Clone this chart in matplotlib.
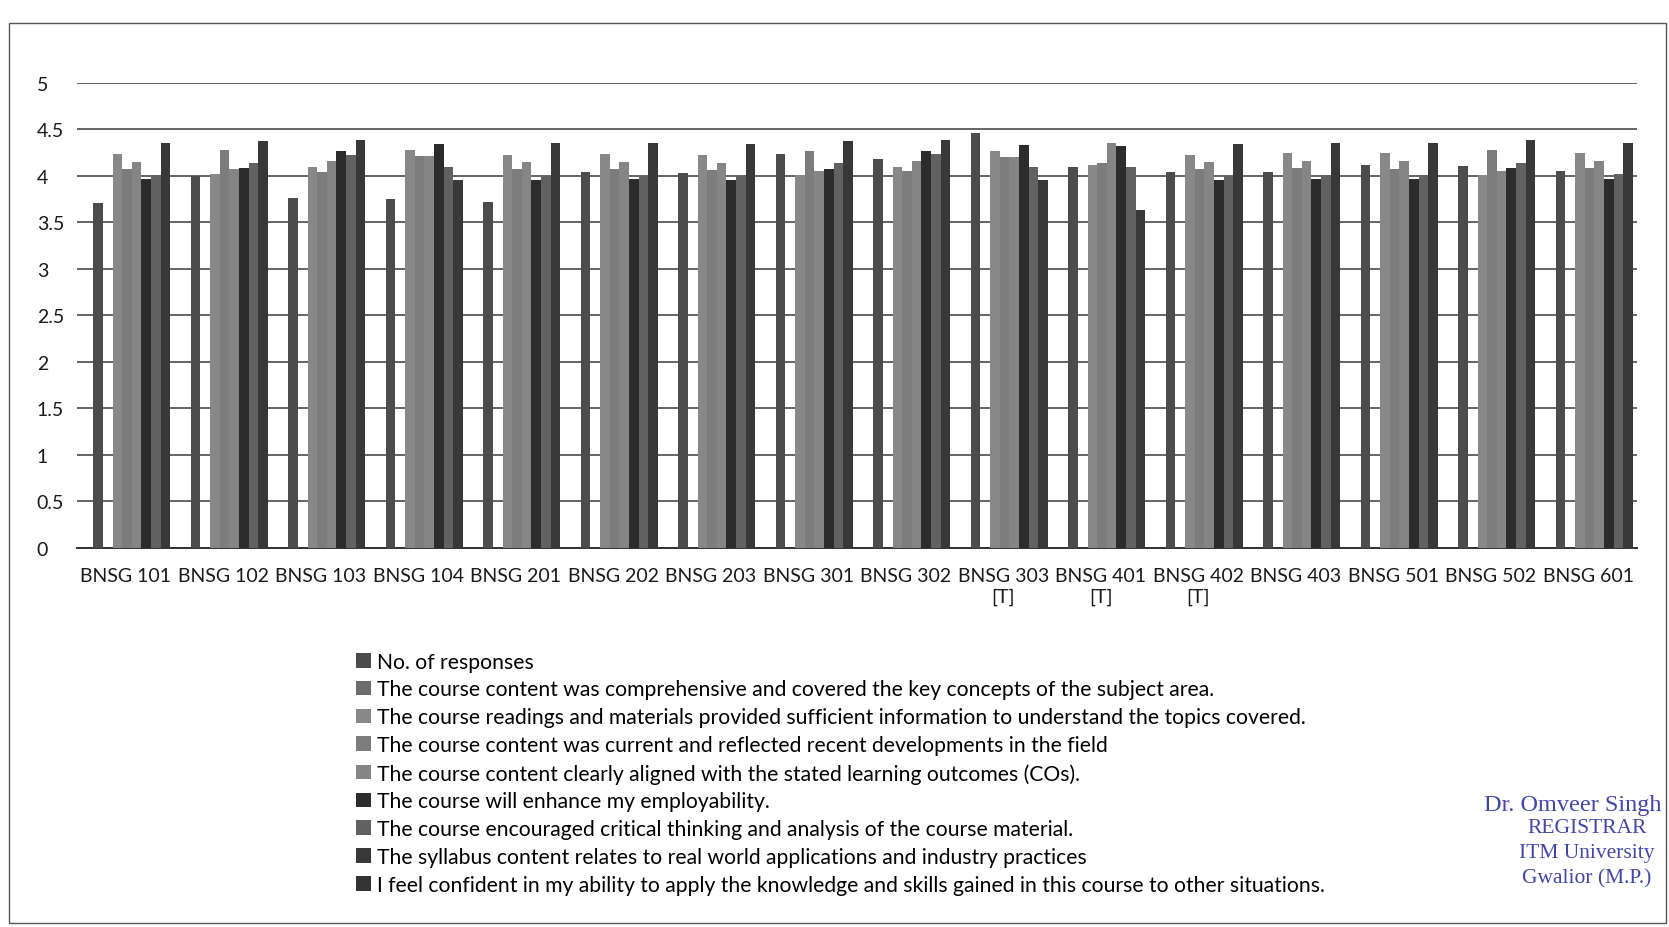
import numpy as np
import matplotlib
matplotlib.use("Agg")
import matplotlib.pyplot as plt
from matplotlib.patches import Patch, Rectangle

plt.rcParams["font.family"] = ["Lato", "DejaVu Sans"]

categories = [
    "BNSG 101", "BNSG 102", "BNSG 103", "BNSG 104", "BNSG 201", "BNSG 202",
    "BNSG 203", "BNSG 301", "BNSG 302", "BNSG 303\n[T]", "BNSG 401\n[T]",
    "BNSG 402\n[T]", "BNSG 403", "BNSG 501", "BNSG 502", "BNSG 601",
]

labels = [
    "No. of responses",
    "The course content was comprehensive and covered the key concepts of the subject area.",
    "The course readings and materials provided sufficient information to understand the topics covered.",
    "The course content was current and reflected recent developments in the field",
    "The course content clearly aligned with the stated learning outcomes (COs).",
    "The course will enhance my employability.",
    "The course encouraged critical thinking and analysis of the course material.",
    "The syllabus content relates to real world applications and industry practices",
    "I feel confident in my ability to apply the knowledge and skills gained in this course to other situations.",
]

# values; two series show no bars at all
responses = [3.70, 4.00, 3.76, 3.75, 3.71, 4.04, 4.03, 4.23, 4.18, 4.46, 4.09, 4.04, 4.04, 4.11, 4.10, 4.05]
comprehensive = None
readings = [4.23, 4.02, 4.09, 4.27, 4.22, 4.23, 4.22, 4.01, 4.09, 4.26, 4.11, 4.22, 4.24, 4.24, 4.01, 4.24]
current = [4.07, 4.27, 4.04, 4.21, 4.07, 4.07, 4.06, 4.26, 4.05, 4.20, 4.14, 4.07, 4.08, 4.07, 4.27, 4.08]
aligned = [4.15, 4.07, 4.16, 4.21, 4.15, 4.15, 4.14, 4.05, 4.16, 4.20, 4.35, 4.15, 4.16, 4.16, 4.05, 4.16]
employability = [3.96, 4.08, 4.26, 4.34, 3.95, 3.96, 3.95, 4.07, 4.26, 4.33, 4.32, 3.95, 3.96, 3.96, 4.08, 3.96]
critical = [4.01, 4.14, 4.22, 4.09, 4.00, 4.00, 4.00, 4.13, 4.23, 4.09, 4.09, 4.00, 4.01, 4.01, 4.14, 4.02]
syllabus = [4.35, 4.37, 4.38, 3.95, 4.35, 4.35, 4.34, 4.37, 4.38, 3.95, 3.63, 4.34, 4.35, 4.35, 4.38, 4.35]
confident = None

series = [responses, comprehensive, readings, current, aligned,
          employability, critical, syllabus, confident]
colors = ["#4c4c4c", "#6c6c6c", "#888888", "#7c7c7c", "#858585",
          "#2c2c2c", "#616161", "#383838", "#333333"]

fig = plt.figure(figsize=(16.69, 9.28), dpi=100)
fig.patch.set_facecolor("white")
ax = fig.add_axes([0.0461, 0.4089, 0.9347, 0.5011])

x = np.arange(len(categories))
slot = 0.099
first = -0.333

for i, vals in enumerate(series):
    if vals is None:
        continue
    ax.bar(x + first + i * slot, vals, width=slot, align="edge",
           color=colors[i], linewidth=0, zorder=3)

ax.set_xlim(-0.5, len(categories) - 0.5)
ax.set_ylim(0, 5)
ax.set_yticks(np.arange(0, 5.01, 0.5))
ax.set_yticklabels(["0", "0.5", "1", "1.5", "2", "2.5", "3", "3.5", "4", "4.5", "5"])
ax.yaxis.grid(True, color="#4a4a4a", linewidth=1.2, zorder=0)
ax.set_axisbelow(True)
for s in ["top", "right", "left"]:
    ax.spines[s].set_visible(False)
ax.spines["bottom"].set_color("#333333")
ax.spines["bottom"].set_linewidth(1.4)

ax.set_xticks(x)
ax.set_xticklabels(categories, fontsize=14, color="#1a1a1a", linespacing=1.25)
ax.tick_params(axis="x", length=0, pad=14)
ax.tick_params(axis="y", length=0, pad=29, labelsize=14, labelcolor="#1a1a1a")
for t in ax.get_yticklabels():
    t.set_horizontalalignment("left")

handles = [Patch(facecolor=c, edgecolor="none") for c in colors]
fig.legend(handles, labels, loc="upper left", bbox_to_anchor=(0.2134, 0.2967),
           frameon=False, fontsize=15.2, handlelength=0.68, handleheight=0.68,
           handletextpad=0.33, labelspacing=0.37, borderpad=0, borderaxespad=0)

# chart area border
fig.add_artist(Rectangle((9 / 1669, 4 / 928), 1657 / 1669, 900 / 928,
                         transform=fig.transFigure, fill=False,
                         edgecolor="#555555", linewidth=1.0))

# registrar stamp
stamp = "#4346a6"
fig.text(1484 / 1669, 1 - 806 / 928, "Dr. Omveer Singh", color=stamp,
         family="Liberation Serif", fontsize=17.5, ha="left", va="center")
for txt, yy in [("REGISTRAR", 829), ("ITM University", 854), ("Gwalior (M.P.)", 879)]:
    fig.text(1587 / 1669, 1 - yy / 928, txt, color=stamp,
             family="Liberation Serif", fontsize=15.5, ha="center", va="center")

fig.savefig("out.png", dpi=100, facecolor="white")
